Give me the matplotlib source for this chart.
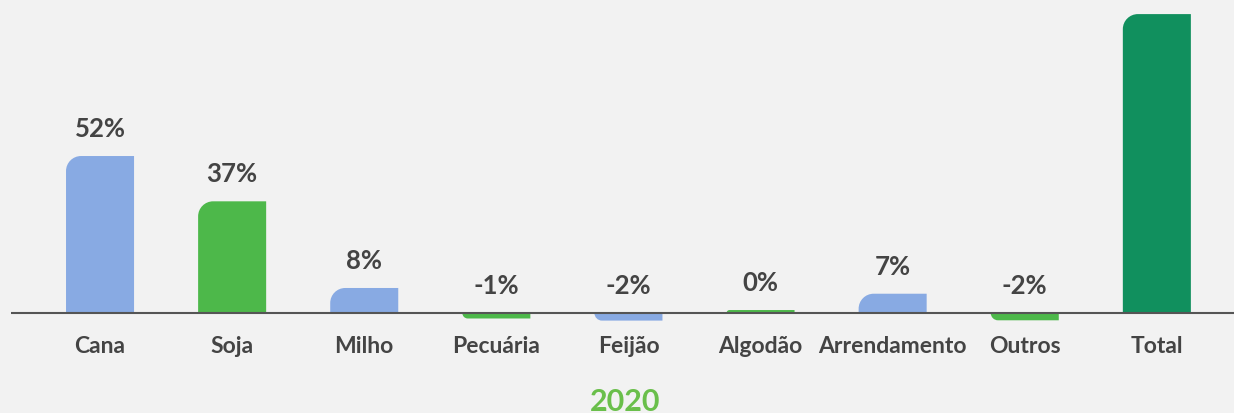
import matplotlib.pyplot as plt
from matplotlib.path import Path
from matplotlib.patches import PathPatch

plt.rcParams['font.family'] = ['Lato', 'DejaVu Sans']

categories = ['Cana', 'Soja', 'Milho', 'Pecuária', 'Feijão', 'Algodão',
              'Arrendamento', 'Outros', 'Total']
values = [52, 37, 8.3, -1.8, -2.5, 1.0, 6.4, -2.4, 99]
labels = ['52%', '37%', '8%', '-1%', '-2%', '0%', '7%', '-2%', '']
colors = ['#88aae3', '#4db84a', '#88aae3', '#4db84a', '#88aae3', '#4db84a',
          '#88aae3', '#4db84a', '#11905e']

BG = '#f2f2f2'
TXT = '#444444'

fig = plt.figure(figsize=(12.34, 4.14), dpi=100, facecolor=BG)
ax = fig.add_axes([11 / 1234, 0, 1 - 11 / 1234, 1])
ax.set_facecolor(BG)
ax.set_xlim(-0.674, 8.584)
ax.set_ylim(-33.1, 104)
ax.axis('off')

width = 0.515
# px -> data scale, used for the round corner and the text offsets
px_x = (8.584 + 0.674) / 1223
px_y = (104 + 33.1) / 414


def bar_path(x0, x1, h):
    r = min(15, abs(h) / px_y)
    rx, ry = r * px_x, r * px_y
    k = 0.5523
    s = 1 if h >= 0 else -1
    ry = ry * s
    verts = [(x0, 0), (x1, 0), (x1, h), (x0 + rx, h),
             (x0 + rx * (1 - k), h), (x0, h - ry * (1 - k)), (x0, h - ry),
             (x0, 0)]
    codes = [Path.MOVETO, Path.LINETO, Path.LINETO, Path.LINETO,
             Path.CURVE4, Path.CURVE4, Path.CURVE4, Path.CLOSEPOLY]
    return Path(verts, codes)


for i, (v, c, lab) in enumerate(zip(values, colors, labels)):
    ax.add_patch(PathPatch(bar_path(i - width / 2, i + width / 2, v),
                           facecolor=c, edgecolor='none'))
    top = max(v, 0)
    if lab:
        ax.text(i, top + 28 * px_y, lab, ha='center', va='center',
                fontsize=18.5, fontweight='bold', color=TXT)
    ax.text(i, -32 * px_y, categories[i], ha='center', va='center',
            fontsize=16.5, fontweight='bold', color=TXT)

ax.axhline(0, color='#555555', lw=1.5)

fig.text(625 / 1234, 1 - 402 / 414, '2020', ha='center', va='center',
         fontsize=22, fontweight='bold', color='#6abf4b')

fig.savefig('out.png', dpi=100, facecolor=BG)
